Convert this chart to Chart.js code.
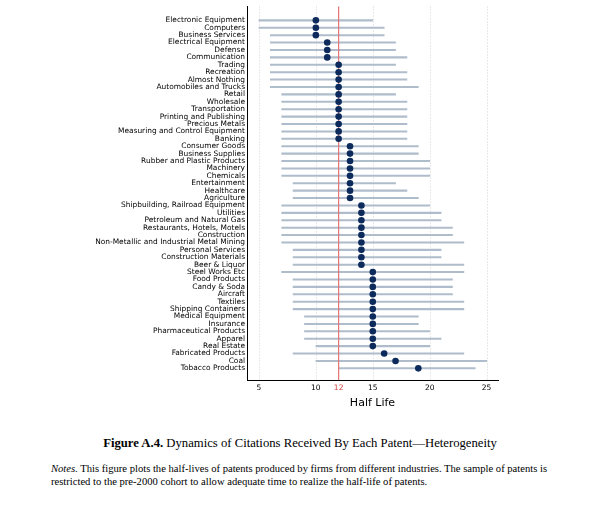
<!DOCTYPE html>
<html>

<head>
  <meta charset="utf-8">
  <title>Half Life by Industry</title>
  <style>
    body {
      margin: 0;
      width: 600px;
      height: 507px;
      background: #fff;
      position: relative;
      overflow: hidden;
    }

    .chart-box {
      position: absolute;
      left: 0;
      top: 0;
      width: 600px;
      height: 410px;
    }

    .caption {
      position: absolute;
      top: 436px;
      left: 0;
      width: 600px;
      text-align: center;
      font-family: "Liberation Serif", serif;
      font-size: 12.7px;
      color: #000;
    }

    .notes {
      position: absolute;
      top: 462px;
      left: 51px;
      width: 520px;
      font-family: "Liberation Serif", serif;
      font-size: 10.6px;
      line-height: 13px;
      color: #000;
    }
  </style>
</head>

<body>
  <div class="chart-box">
    <canvas id="half-life-chart" width="600" height="410"></canvas>
  </div>
  <div class="caption"><b>Figure A.4.</b> Dynamics of Citations Received By Each Patent—Heterogeneity</div>
  <div class="notes"><i>Notes.</i> This figure plots the half-lives of patents produced by firms from different industries. The sample of patents is<br>restricted to the pre-2000 cohort to allow adequate time to realize the half-life of patents.</div>

  <script src="https://cdn.jsdelivr.net/npm/chart.js"></script>

  <script>
    const industries = [
      'Electronic Equipment', 'Computers', 'Business Services', 'Electrical Equipment', 'Defense',
      'Communication', 'Trading', 'Recreation', 'Almost Nothing', 'Automobiles and Trucks',
      'Retail', 'Wholesale', 'Transportation', 'Printing and Publishing', 'Precious Metals',
      'Measuring and Control Equipment', 'Banking', 'Consumer Goods', 'Business Supplies',
      'Rubber and Plastic Products', 'Machinery', 'Chemicals', 'Entertainment', 'Healthcare',
      'Agriculture', 'Shipbuilding, Railroad Equipment', 'Utilities', 'Petroleum and Natural Gas',
      'Restaurants, Hotels, Motels', 'Construction', 'Non-Metallic and Industrial Metal Mining',
      'Personal Services', 'Construction Materials', 'Beer & Liquor', 'Steel Works Etc',
      'Food Products', 'Candy & Soda', 'Aircraft', 'Textiles', 'Shipping Containers',
      'Medical Equipment', 'Insurance', 'Pharmaceutical Products', 'Apparel', 'Real Estate',
      'Fabricated Products', 'Coal', 'Tobacco Products'
    ];
    const halfLife = [
      10, 10, 10, 11, 11, 11, 12, 12, 12, 12,
      12, 12, 12, 12, 12, 12, 12, 13, 13, 13,
      13, 13, 13, 13, 13, 14, 14, 14, 14, 14,
      14, 14, 14, 14, 15, 15, 15, 15, 15, 15,
      15, 15, 15, 15, 15, 16, 17, 19
    ];
    const rangeLow = [
      5, 5, 6, 6, 6, 6, 6, 6, 6, 6,
      7, 7, 7, 7, 7, 7, 7, 7, 7, 7,
      7, 7, 8, 8, 8, 7, 7, 7, 7, 7,
      7, 8, 8, 8, 7, 8, 8, 8, 8, 8,
      9, 9, 9, 9, 10, 8, 10, 12
    ];
    const rangeHigh = [
      15, 16, 16, 17, 17, 18, 17, 18, 18, 19,
      17, 18, 18, 18, 18, 18, 18, 19, 19, 20,
      20, 20, 17, 18, 19, 20, 21, 21, 22, 22,
      23, 21, 21, 23, 23, 22, 22, 22, 23, 23,
      19, 19, 20, 21, 20, 23, 25, 24
    ];
    const xTicks = [5, 10, 12, 15, 20, 25];
    const refLine = 12;
    const refColor = '#d43a3a';
    const refLineColor = '#e57373';

    const guides = {
      id: 'guides',
      beforeDatasetsDraw(chart) {
        const { ctx, chartArea, scales: { x } } = chart;
        ctx.save();
        ctx.lineWidth = 0.8;
        ctx.strokeStyle = '#c8c8c8';
        ctx.setLineDash([1, 2]);
        xTicks.filter(v => v !== refLine).forEach(v => {
          const px = Math.round(x.getPixelForValue(v)) + 0.5;
          ctx.beginPath();
          ctx.moveTo(px, chartArea.top);
          ctx.lineTo(px, chartArea.bottom);
          ctx.stroke();
        });
        ctx.restore();
      },
      afterDatasetDraw(chart, args) {
        // red line goes over the range bars but under the dots
        if (args.index !== 0) return;
        const { ctx, chartArea, scales: { x } } = chart;
        ctx.save();
        ctx.strokeStyle = refLineColor;
        ctx.lineWidth = 1.2;
        const rx = x.getPixelForValue(refLine);
        ctx.beginPath();
        ctx.moveTo(rx, chartArea.top);
        ctx.lineTo(rx, chartArea.bottom);
        ctx.stroke();
        ctx.restore();
      }
    };

    new Chart(document.getElementById('half-life-chart'), {
      type: 'bar',
      data: {
        datasets: [{
          data: industries.map((c, i) => ({ y: i, x: [rangeLow[i], rangeHigh[i]] })),
          backgroundColor: '#aebccb',
          barThickness: 1.4,
          order: 2
        }, {
          type: 'scatter',
          data: industries.map((c, i) => ({ y: i, x: halfLife[i] })),
          backgroundColor: '#0c2b5c',
          borderWidth: 0,
          pointRadius: 3.3,
          order: 1
        }]
      },
      options: {
        indexAxis: 'y',
        responsive: false,
        animation: false,
        layout: { padding: { top: 6, right: 102, left: 0, bottom: 0 } },
        plugins: { legend: { display: false }, tooltip: { enabled: false } },
        scales: {
          x: {
            type: 'linear',
            min: 3.95,
            max: 26,
            afterBuildTicks: axis => { axis.ticks = xTicks.map(v => ({ value: v })); },
            afterFit: axis => { axis.height = 30; },
            grid: { display: false, drawTicks: false },
            border: { display: true, color: '#000', width: 1 },
            ticks: {
              padding: 4,
              font: { family: 'DejaVu Sans', size: 7.5 },
              color: ctx => ctx.tick.value === refLine ? refColor : '#000',
              maxRotation: 0
            },
            title: {
              display: true,
              text: 'Half Life',
              color: '#000',
              font: { family: 'DejaVu Sans', size: 11 },
              padding: { top: 0, bottom: 0 }
            }
          },
          y: {
            type: 'linear',
            reverse: true,
            min: -1.35,
            max: 48.05,
            afterBuildTicks: axis => { axis.ticks = industries.map((c, i) => ({ value: i })); },
            afterFit: axis => { axis.width = 247; },
            grid: { display: false, drawTicks: false },
            border: { display: true, color: '#000', width: 1 },
            ticks: {
              autoSkip: false,
              padding: 2,
              font: { family: 'DejaVu Sans', size: 7.45 },
              color: '#000',
              callback: v => industries[v]
            }
          }
        }
      },
      plugins: [guides]
    });
  </script>
</body>

</html>
